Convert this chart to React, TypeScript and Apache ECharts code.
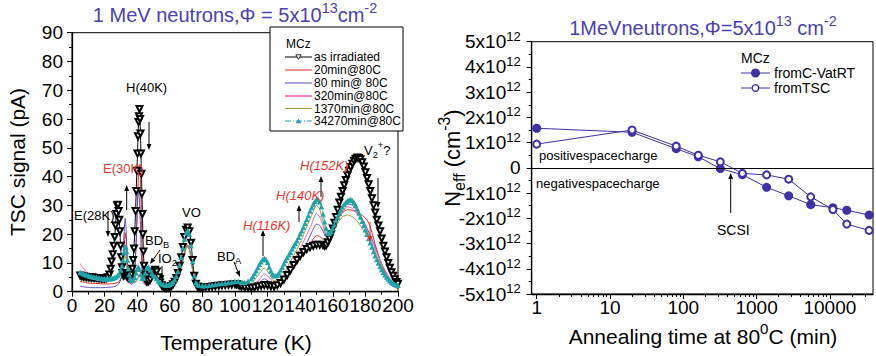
import React, { useEffect, useRef } from "react";
import * as echarts from "echarts";

const FONT = "Liberation Sans, Arial, sans-serif";
const TITLE_COLOR = "#4b41b0";
const LABEL_RED = "#e5392f";

// ---- TSC spectra after different annealing steps: [temperature (K), signal (pA)] ----
const tscAsIrradiated = [
  [5,5.6],[6,5.4],[7,5.3],[8,5.2],[9,5.1],[10,5.0],[11,5.0],[12,4.9],[13,4.9],[14,4.8],[15,4.8],[16,4.7],[17,4.7],[18,4.6],[19,4.6],[20,4.6],[21,4.7],[22,5.0],[23,6.0],[23.7,8],[24.3,10.5],[25,13],[25.6,16],[26.2,19],[26.7,23],[27.2,27],[27.7,30],[28.2,30.2],[28.6,28],[29,25],[29.4,21],[29.8,16],[30.2,12],[30.6,8.5],[31,6.5],[31.5,5.6],[32,5.8],[32.5,6.2],[33,6.0],[33.5,5.5],[34,5.0],[35,4.6],[36,5.0],[36.5,6],[37,8],[37.5,11],[38,15],[38.5,21],[39,28],[39.4,35],[39.8,42],[40.2,48],[40.5,54],[40.8,59],[41.1,61],[41.4,63.5],[41.7,60],[42,55],[42.3,48],[42.6,41],[42.9,34],[43.2,27],[43.5,20],[43.8,14],[44.2,9],[44.6,6],[45,4.5],[46,3.5],[47,3.6],[48,4.2],[49,5.5],[50,7],[51,7.6],[52,7],[53,5],[54,3.2],[55,2.2],[56,1.7],[57,1.4],[58,1.3],[59,1.4],[60,1.6],[61,2],[62,2.6],[63,3.5],[64,4.8],[65,6.5],[66,9],[67,12],[68,15.5],[69,19],[70,21.5],[71,22.3],[72,21],[73,17],[74,11],[75,5.5],[76,2.8],[77,1.8],[78,1.5],[79,1.4],[80,1.4],[82,1.5],[84,1.6],[86,1.8],[88,2.0],[90,2.1],[92,2.2],[94,2.3],[96,2.4],[98,2.5],[100,2.6],[101,2.6],[102,2.4],[103,2.1],[104,1.8],[106,1.5],[108,1.4],[110,1.4],[112,1.5],[114,1.8],[116,2.1],[118,2.3],[120,2.2],[122,1.9],[124,1.8],[126,2.2],[128,3.0],[130,4.2],[132,5.8],[134,7.5],[136,9.3],[138,11],[140,12.5],[142,13.8],[144,14.8],[146,15.5],[148,16],[150,16.3],[152,16.3],[154,16.2],[155,16.0],[156,16.2],[157,17.2],[158,18.5],[159,20],[160,22],[161,24],[162,26],[163,28.5],[164,31],[165,33],[166,35],[167,37],[168,38.8],[169,40.5],[170,42],[171,43.3],[172,44.5],[173,45.5],[174,46.2],[175,46.6],[176,46.5],[177,46],[178,45],[179,43.5],[180,41.5],[181,39.5],[182,37.3],[183,35],[184,32.5],[185,30],[186,27.5],[187,25],[188,23],[189,21],[190,18.5],[191,16],[192,14],[193,12],[194,10],[195,8.3],[196,6.8],[197,5.5],[198,4.3],[199,3.4],[200,2.8],
];

const tsc20min = [
  [5,3.6],[7,3.3],[10,3.0],[13,2.9],[16,2.8],[19,2.7],[22,2.7],[25,2.8],[27,3.0],[29,3.6],[30.5,5],[31.3,9],[32,15],[32.6,20.5],[33.2,18],[33.8,11],[34.5,5.5],[35.5,3.2],[36.5,3],[37.5,4],[38.5,8],[39.3,16],[40,28],[40.6,38],[41.2,44],[41.7,43],[42.2,35],[42.7,22],[43.2,11],[43.8,5],[44.5,3],[46,2.3],[48,3],[49.5,5.5],[51,7.2],[52.5,5.5],[54,3],[56,1.6],[58,1.2],[60,1.3],[62,2],[64,3.2],[66,6],[68,11],[70,15.5],[71,16.2],[72,15],[73,12],[74,7.5],[75,4],[76,2.2],[78,1.4],[82,1.3],[86,1.5],[90,1.8],[95,2.1],[100,2.6],[101.5,2.8],[103,2.2],[106,1.5],[110,1.3],[114,1.8],[118,3.0],[121,2.5],[124,2.0],[127,2.5],[130,4.5],[133,6.5],[136,8.5],[140,11.3],[144,14.5],[147,17.5],[150,19.5],[152,19.2],[154,18.2],[156,17.5],[158,19],[160,21.5],[163,25],[166,27.5],[169,28.5],[172,28.3],[175,27.5],[178,26.5],[181,25],[183,22.5],[185,18.5],[187,14.5],[189,11],[191,8],[193,5.5],[196,3],[200,1.3],
];

const tsc80min = [
  [5,1.9],[7,1.7],[10,1.5],[13,1.4],[16,1.4],[19,1.4],[22,1.5],[25,1.7],[27,2],[29,3],[30.5,6],[31.3,12],[32,21],[32.6,25.5],[33.2,22],[33.8,13],[34.5,6],[35.5,3],[36.5,2.5],[37.5,3.5],[38.5,8],[39.3,17],[40,28],[40.6,35],[41.1,34],[41.7,28],[42.2,19],[42.7,10],[43.3,5],[44,3],[45,2.3],[46,2.3],[48,3.2],[49.5,6],[51,8],[52.5,5.5],[54,2.8],[56,1.5],[58,1.1],[60,1.3],[62,2],[64,3.2],[66,6],[68,11],[70,15.3],[71,15.8],[72,14.8],[73,12],[74,7.5],[75,4],[76,2.2],[78,1.5],[82,1.4],[86,1.6],[90,1.9],[95,2.2],[100,2.8],[101.5,3.2],[103,2.5],[106,1.8],[110,1.6],[114,2.5],[118,4.5],[121,3.5],[124,2.5],[127,3],[130,5],[133,7.5],[136,9.5],[140,13],[144,17],[147,20.5],[150,23.5],[152,23],[154,21],[156,19],[158,20],[160,22.5],[163,26],[166,29],[169,30.5],[172,30],[175,28],[178,25.5],[181,22],[183,19.5],[185,17],[187,14],[189,11],[191,8.5],[193,6],[196,3.5],[200,1.5],
];

const tsc320min = [
  [5,9.8],[6,8.8],[8,7.3],[10,6.4],[13,5.6],[16,5.1],[19,4.8],[22,4.6],[25,4.6],[27,4.8],[29,5.3],[30.5,6.5],[31.3,8],[32,9.5],[32.6,9.8],[33.2,9],[33.8,7],[34.5,5],[35.5,3.5],[37,3],[39,3.2],[40.5,4.5],[41.5,6],[42.3,5.8],[43,4.2],[44,3.2],[45,3],[46,3.3],[48,4],[49.5,6],[51,7.3],[52.5,5.5],[54,3],[56,1.8],[58,1.3],[60,1.4],[62,2],[64,3.2],[66,6],[68,10.8],[70,15],[71,15.5],[72,14.5],[73,11.8],[74,7.5],[75,4],[76,2.3],[78,1.6],[82,1.6],[86,1.9],[90,2.2],[95,2.5],[100,3.1],[101.5,3.4],[103,3],[106,2.2],[110,2.2],[114,3.5],[118,6.2],[121,5],[124,3.2],[127,3.5],[130,5.5],[133,8.5],[136,11],[140,15],[144,19.8],[147,23.5],[150,27.2],[152,26],[154,23],[156,19.5],[158,20],[160,22.5],[163,25.5],[166,28],[169,29.5],[172,29],[175,27],[178,24.5],[181,21],[183,18.5],[185,16],[187,13.5],[189,11],[191,8.5],[193,6.5],[196,4],[200,2],
];

const tsc1370min = [
  [5,6.5],[7,5.8],[10,5.1],[13,4.7],[16,4.4],[19,4.2],[22,4.1],[25,4.2],[27,4.5],[29,5.2],[30.5,7],[31.3,9.5],[32,11.5],[32.6,12.3],[33.2,11],[33.8,8],[34.5,5.5],[35.5,3.8],[37,3.3],[39,3.6],[40.5,5],[41.3,6],[42,5.5],[43,4],[44,3.2],[45,3],[46,3.3],[48,4],[49.5,5.5],[51,6.5],[52.5,5],[54,3],[56,1.9],[58,1.5],[60,1.6],[62,2.2],[64,3.4],[66,6.3],[68,11.5],[70,15.6],[71,16.3],[72,15.2],[73,12.2],[74,7.6],[75,4],[76,2.4],[78,1.7],[82,1.7],[86,2],[90,2.3],[95,2.6],[100,3],[101.5,3.3],[103,3],[106,2.5],[110,3],[114,5.5],[118,8.2],[121,6.3],[124,3.8],[127,4],[130,6],[133,9.5],[136,12.5],[140,17],[144,22.5],[147,26.5],[150,30],[152,28.5],[154,24.5],[156,20],[158,20],[160,21.5],[163,24],[166,26],[169,26.7],[172,26],[175,24.5],[178,22],[181,19.5],[183,17.5],[185,15],[187,12.5],[189,10],[191,7.5],[193,5.5],[196,3],[200,0.6],
];

const tsc34270min = [
  [5,6.8],[6,6.5],[7,6.2],[8,6],[9,5.8],[10,5.6],[11,5.4],[12,5.3],[13,5.1],[14,5],[15,4.9],[16,4.8],[17,4.7],[18,4.6],[19,4.5],[20,4.5],[21,4.5],[22,4.5],[23,4.5],[24,4.6],[25,4.7],[26,4.9],[27,5.2],[28,5.6],[29,6.3],[30,7.5],[30.7,9],[31.3,11],[31.9,13.5],[32.5,15.3],[33,15.5],[33.5,14],[34,11],[34.5,8],[35,6],[35.7,4.6],[36.5,4],[37.5,4.2],[38.5,5],[39.3,6.5],[40,8],[40.7,8.6],[41.4,7.8],[42.2,6],[43,4.8],[44,4.8],[45,6.5],[46,8.2],[47,8.6],[48,7.5],[49,6.3],[50,5.5],[51,5.2],[52,4.6],[53,3.8],[54,3.2],[55,2.8],[56,2.5],[57,2.3],[58,2.2],[59,2.3],[60,2.5],[61,2.9],[62,3.4],[63,4.2],[64,5.4],[65,7],[66,9.2],[67,12],[68,15.2],[69,18.3],[70,20.5],[71,21.3],[72,20],[73,16],[74,10.5],[75,5.5],[76,3.2],[77,2.5],[78,2.2],[80,2.1],[82,2.1],[84,2.2],[86,2.4],[88,2.6],[90,2.8],[92,2.9],[94,3],[96,3.2],[98,3.4],[100,3.6],[102,3.6],[104,3.3],[106,3.3],[108,3.7],[110,4.5],[111,5.3],[112,6.3],[113,7.3],[114,8.4],[115,9.5],[116,10.4],[117,11.2],[118,11.6],[119,11.2],[120,10.2],[121,8.6],[122,7.2],[123,6.2],[124,5.6],[125,5.5],[126,5.8],[127,6.5],[128,7.5],[129,8.6],[130,9.7],[131,10.8],[132,11.9],[133,12.8],[134,13.7],[135,14.8],[136,15.9],[137,16.8],[138,17.7],[139,18.9],[140,20.1],[141,21.2],[142,22.4],[143,23.8],[144,25.2],[145,26.5],[146,28],[147,29.3],[148,30.5],[149,31.4],[150,32],[151,32.2],[152,31.3],[153,29.5],[154,27],[155,24.3],[156,22],[157,20.5],[158,20.3],[159,21],[160,22],[161,23.3],[162,24.7],[163,26],[164,27.3],[165,28.5],[166,29.5],[167,30.4],[168,31.1],[169,31.6],[170,31.9],[171,32],[172,31.7],[173,31],[174,30],[175,28.8],[176,27.4],[177,26],[178,24.5],[179,23],[180,21.5],[181,20],[182,18.5],[183,17],[184,15.5],[185,14],[186,12.5],[187,11.2],[188,10],[189,8.8],[190,7.7],[191,6.8],[192,5.9],[193,5.1],[194,4.4],[195,3.8],[196,3.3],[197,2.9],[198,2.6],[199,2.3],[200,2.2],
];

const tscNames = ["as irradiated", "20min@80C", "80 min@ 80C", "320min@80C", "1370min@80C", "34270min@80C"];
const tscColors = ["#000000", "#e8261e", "#5a4fc0", "#f064b4", "#a49c35", "#1fa4a8"];

// ---- Effective doping vs. annealing time at 80 C ----
const annealMinutes = [1, 20, 80, 160, 320, 640, 1370, 2740, 5480, 11000, 17000, 34270];
const neffFromCV = [1.57e12, 1.41e12, 0.76e12, 0.44e12, -0.03e12, -0.27e12, -0.77e12, -1.11e12, -1.46e12, -1.58e12, -1.68e12, -1.87e12];
const neffFromTSC = [0.94e12, 1.5e12, 0.86e12, 0.5e12, 0.24e12, -0.22e12, -0.28e12, -0.45e12, -1.15e12, -1.65e12, -2.23e12, -2.48e12];
const neffNames = ["fromC-VatRT", "fromTSC"];
const decadeLabels = [1, 10, 100, 1000, 10000];
const NEFF_COLOR = "#3e32a6";

const logTimeMin = -0.068;
const logTimeMax = 4.588;

function arrow(x1: number, y1: number, x2: number, y2: number, color = "#000", head = 6) {
  const ang = Math.atan2(y2 - y1, x2 - x1);
  const hx = x2 - head * Math.cos(ang);
  const hy = y2 - head * Math.sin(ang);
  const w = head * 0.4;
  const px = -Math.sin(ang) * w;
  const py = Math.cos(ang) * w;
  return [
    { type: "line", z: 100, shape: { x1, y1, x2: hx, y2: hy }, style: { stroke: color, lineWidth: 1 } },
    { type: "polygon", z: 100, shape: { points: [[x2, y2], [hx + px, hy + py], [hx - px, hy - py]] }, style: { fill: color } },
  ];
}

function scriptRich(size: number, color: string, italic = false) {
  const fontStyle = italic ? "italic" : "normal";
  return {
    n: { fontSize: size, fontFamily: FONT, fill: color, fontStyle, lineHeight: size * 1.45, verticalAlign: "middle" },
    sub: { fontSize: size * 0.72, fontFamily: FONT, fill: color, fontStyle, lineHeight: size * 0.72, verticalAlign: "bottom" },
    sup: { fontSize: size * 0.72, fontFamily: FONT, fill: color, fontStyle, lineHeight: size * 0.72, verticalAlign: "top" },
  };
}

function label(x: number, y: number, text: string, size = 13, color = "#000", opts: any = {}) {
  return {
    type: "text",
    z: 100,
    x,
    y,
    rotation: opts.rotation || 0,
    style: {
      text,
      fontSize: size,
      fontFamily: FONT,
      fill: color,
      fontStyle: opts.italic ? "italic" : "normal",
      align: opts.align || "left",
      verticalAlign: "middle",
      rich: scriptRich(size, color, opts.italic),
    },
  };
}

// Legend for the TSC panel: framed box with a header and six sample rows
function tscLegend() {
  const box = { x: 270, y: 27, w: 133, h: 104 };
  const rowY = [57, 70, 83, 96, 108.5, 121];
  const lx1 = 285;
  const lx2 = 312;
  const cx = (lx1 + lx2) / 2;
  const items: any[] = [
    { type: "rect", z: 90, shape: { x: box.x, y: box.y, width: box.w, height: box.h }, style: { fill: "#fff", stroke: "#000", lineWidth: 1 } },
    label(286, 44, "{n|MCz}", 12),
  ];
  tscNames.forEach((name, i) => {
    const y = rowY[i];
    const color = tscColors[i];
    items.push({
      type: "line",
      z: 100,
      shape: { x1: lx1, y1: y, x2: lx2, y2: y },
      style: { stroke: color, lineWidth: i === 3 ? 1.6 : 1, lineDash: i === 5 ? [6, 2, 1, 2] : null },
    });
    if (i === 0) {
      items.push({
        type: "polygon",
        z: 101,
        shape: { points: [[cx - 2.6, y - 2.2], [cx + 2.6, y - 2.2], [cx, y + 2.4]] },
        style: { fill: "#fff", stroke: "#000", lineWidth: 0.8 },
      });
    }
    if (i === 5) {
      items.push({
        type: "polygon",
        z: 101,
        shape: { points: [[cx - 2.8, y + 2.3], [cx + 2.8, y + 2.3], [cx, y - 2.6]] },
        style: { fill: color },
      });
    }
    items.push(label(314, y, `{n|${name}}`, 12));
  });
  return items;
}

// Legend for the Neff panel
function neffLegend() {
  const rows = [73, 88];
  const lx1 = 741;
  const lx2 = 770;
  const cx = 755.5;
  const items: any[] = [label(741, 58, "{n|MCz}", 14)];
  rows.forEach((y, i) => {
    items.push({ type: "line", z: 100, shape: { x1: lx1, y1: y, x2: lx2, y2: y }, style: { stroke: NEFF_COLOR, lineWidth: 1 } });
    items.push({
      type: "circle",
      z: 101,
      shape: { cx, cy: y, r: i === 0 ? 4.5 : 3.3 },
      style: i === 0 ? { fill: NEFF_COLOR } : { fill: "#fff", stroke: NEFF_COLOR, lineWidth: 1.2 },
    });
    items.push(label(774, y, `{n|${neffNames[i]}}`, 14));
  });
  return items;
}

const axisLineStyle = { color: "#000", width: 1.3 };

export default function App() {
  const ref = useRef<HTMLDivElement>(null);

  useEffect(() => {
    if (!ref.current) return;
    const chart = echarts.init(ref.current, undefined, { renderer: "svg" });

    const minorLogTicks: number[] = [];
    for (let d = 0; d <= 4; d++) {
      for (let k = 2; k <= 9; k++) {
        const v = Math.log10(k * Math.pow(10, d));
        if (v < logTimeMax) minorLogTicks.push(v);
      }
    }

    const tscData = [tscAsIrradiated, tsc20min, tsc80min, tsc320min, tsc1370min, tsc34270min];
    // draw order: plain lines first, then the marker curves on top
    const drawOrder = [1, 2, 3, 4, 0, 5];
    const tscSeries = drawOrder.map((i) => {
      const base: any = {
        name: tscNames[i],
        type: "line",
        xAxisIndex: 0,
        yAxisIndex: 0,
        data: tscData[i],
        smooth: 0.2,
        lineStyle: { color: tscColors[i], width: 1 },
        itemStyle: { color: tscColors[i] },
        symbol: "none",
      };
      if (i === 0) {
        base.symbol = "emptyTriangle";
        base.symbolRotate = 180;
        base.symbolSize = 6;
        base.showSymbol = true;
        base.itemStyle = { color: "#000", borderWidth: 0.6 };
      }
      if (i === 5) {
        base.symbol = "triangle";
        base.symbolSize = 5.5;
        base.showSymbol = true;
        base.lineStyle = { color: tscColors[i], width: 1, type: [6, 2, 1, 2] };
      }
      return base;
    });

    const neffSeries = [
      {
        name: neffNames[0],
        type: "line",
        xAxisIndex: 1,
        yAxisIndex: 1,
        data: annealMinutes.map((t, i) => [Math.log10(t), neffFromCV[i]]),
        symbol: "circle",
        symbolSize: 9,
        lineStyle: { color: NEFF_COLOR, width: 1 },
        itemStyle: { color: NEFF_COLOR },
        markLine: {
          silent: true,
          symbol: ["none", "none"],
          label: { show: false },
          lineStyle: { color: "#000", width: 1, type: "solid" },
          data: [{ yAxis: 0 }],
        },
      },
      {
        name: neffNames[1],
        type: "line",
        xAxisIndex: 1,
        yAxisIndex: 1,
        data: annealMinutes.map((t, i) => [Math.log10(t), neffFromTSC[i]]),
        symbol: "emptyCircle",
        symbolSize: 7,
        lineStyle: { color: NEFF_COLOR, width: 1 },
        itemStyle: { color: NEFF_COLOR, borderWidth: 1.2 },
      },
    ];

    const tickLabelStyle = { fontSize: 19, color: "#000", fontFamily: FONT };

    const graphics: any[] = [
      // titles
      label(235, 15, "{n|1 MeV neutrons,Φ = 5x10}{sup|13}{n|cm}{sup|-2}", 20, TITLE_COLOR, { align: "center" }),
      label(703, 28, "{n|1MeVneutrons,Φ=5x10}{sup|13}{n| cm}{sup|-2}", 20, TITLE_COLOR, { align: "center" }),
      // axis names
      label(17, 162, "{n|TSC signal (pA)}", 21, "#000", { align: "center", rotation: Math.PI / 2 }),
      label(236, 342, "{n|Temperature (K)}", 21, "#000", { align: "center" }),
      label(452, 158, "{n|N}{sub|eff}{n| (cm}{sup|-3}{n|)}", 22, "#000", { align: "center", rotation: Math.PI / 2 }),
      label(703, 336, "{n|Annealing time at 80}{sup|0}{n|C (min)}", 21, "#000", { align: "center" }),
      ...tscLegend(),
      ...neffLegend(),
      // TSC peak annotations
      label(126, 87, "{n|H(40K)}", 13),
      label(103, 168, "{n|E(30K)}", 13, LABEL_RED),
      label(74, 215, "{n|E(28K)}", 13),
      label(145, 240, "{n|BD}{sub|B}", 13),
      label(158, 258, "{n|IO}{sub|2}", 13),
      label(182, 212, "{n|VO}", 13),
      label(217, 256, "{n|BD}{sub|A}", 13),
      label(243, 225, "{n|H(116K)}", 13, LABEL_RED, { italic: true }),
      label(276, 195, "{n|H(140K)}", 13, LABEL_RED, { italic: true }),
      label(300, 165, "{n|H(152K)}", 13, LABEL_RED, { italic: true }),
      label(364, 150, "{n|V}{sub|2}{sup|+}{n|?}", 13),
      ...arrow(149, 122, 149, 150),
      ...arrow(108, 212, 108, 237),
      ...arrow(126.7, 210, 126.7, 185),
      ...arrow(160, 250, 150, 264),
      ...arrow(162, 266, 162, 281),
      ...arrow(234, 262, 240, 277),
      ...arrow(263, 256, 263, 230),
      ...arrow(299, 222, 299, 205),
      ...arrow(321, 197, 321, 176),
      ...arrow(378, 178, 378, 208),
      ...arrow(370, 222, 370, 242, "#e8261e"),
      // space charge annotations
      label(539, 155, "{n|positivespacecharge}", 13),
      label(536, 183, "{n|negativespacecharge}", 13),
      label(717, 230, "{n|SCSI}", 14),
      ...arrow(730.7, 213, 730.7, 173),
    ];

    chart.setOption({
      animation: false,
      backgroundColor: "#fff",
      textStyle: { fontFamily: FONT },
      grid: [
        { left: 72, top: 32.7, width: 326, height: 259, show: true, borderColor: "#000", borderWidth: 1 },
        { left: 531.7, top: 41.7, width: 341.3, height: 252.3, show: true, borderColor: "#000", borderWidth: 1 },
      ],
      xAxis: [
        {
          gridIndex: 0,
          type: "value",
          min: 0,
          max: 200,
          interval: 20,
          axisLine: { onZero: false, lineStyle: axisLineStyle },
          axisTick: { length: 5, lineStyle: { color: "#000" } },
          minorTick: { show: true, splitNumber: 2, length: 3, lineStyle: { color: "#000" } },
          axisLabel: { ...tickLabelStyle, margin: 4 },
          splitLine: { show: false },
        },
        {
          gridIndex: 1,
          type: "value",
          position: "bottom",
          min: logTimeMin,
          max: logTimeMax,
          axisLine: { onZero: false, lineStyle: axisLineStyle },
          axisTick: { length: 5, customValues: decadeLabels.map((v) => Math.log10(v)), lineStyle: { color: "#000" } },
          axisLabel: {
            ...tickLabelStyle,
            margin: 4,
            customValues: decadeLabels.map((v) => Math.log10(v)),
            formatter: (v: number) => String(decadeLabels[Math.round(v)]),
          },
          splitLine: { show: false },
        },
        {
          gridIndex: 1,
          type: "value",
          position: "bottom",
          min: logTimeMin,
          max: logTimeMax,
          axisLine: { show: false, onZero: false },
          axisTick: { length: 3, customValues: minorLogTicks, lineStyle: { color: "#000" } },
          axisLabel: { show: false },
          splitLine: { show: false },
        },
      ],
      yAxis: [
        {
          gridIndex: 0,
          type: "value",
          min: 0,
          max: 90,
          interval: 10,
          axisLine: { show: true, onZero: false, lineStyle: axisLineStyle },
          axisTick: { show: true, length: 5, lineStyle: { color: "#000" } },
          minorTick: { show: true, splitNumber: 2, length: 3, lineStyle: { color: "#000" } },
          axisLabel: { ...tickLabelStyle, margin: 9 },
          splitLine: { show: false },
        },
        {
          gridIndex: 1,
          type: "value",
          min: -5e12,
          max: 5e12,
          interval: 1e12,
          axisLine: { show: true, onZero: false, lineStyle: axisLineStyle },
          axisTick: { show: true, length: 5, lineStyle: { color: "#000" } },
          minorTick: { show: true, splitNumber: 2, length: 3, lineStyle: { color: "#000" } },
          axisLabel: {
            ...tickLabelStyle,
            margin: 11,
            formatter: (v: number) => {
              const k = Math.round(v / 1e12);
              return k === 0 ? "{n|0}" : `{n|${k}x10}{sup|12}`;
            },
            rich: {
              n: { fontSize: 19, fontFamily: FONT, color: "#000", lineHeight: 24, verticalAlign: "middle" },
              sup: { fontSize: 13, fontFamily: FONT, color: "#000", lineHeight: 13, verticalAlign: "top" },
            },
          },
          splitLine: { show: false },
        },
      ],
      graphic: graphics,
      series: [...tscSeries, ...neffSeries],
    });

    return () => chart.dispose();
  }, []);

  return (
    <div
      ref={ref}
      style={{ position: "absolute", left: 0, top: 0, width: 876, height: 356, background: "#fff" }}
    />
  );
}
